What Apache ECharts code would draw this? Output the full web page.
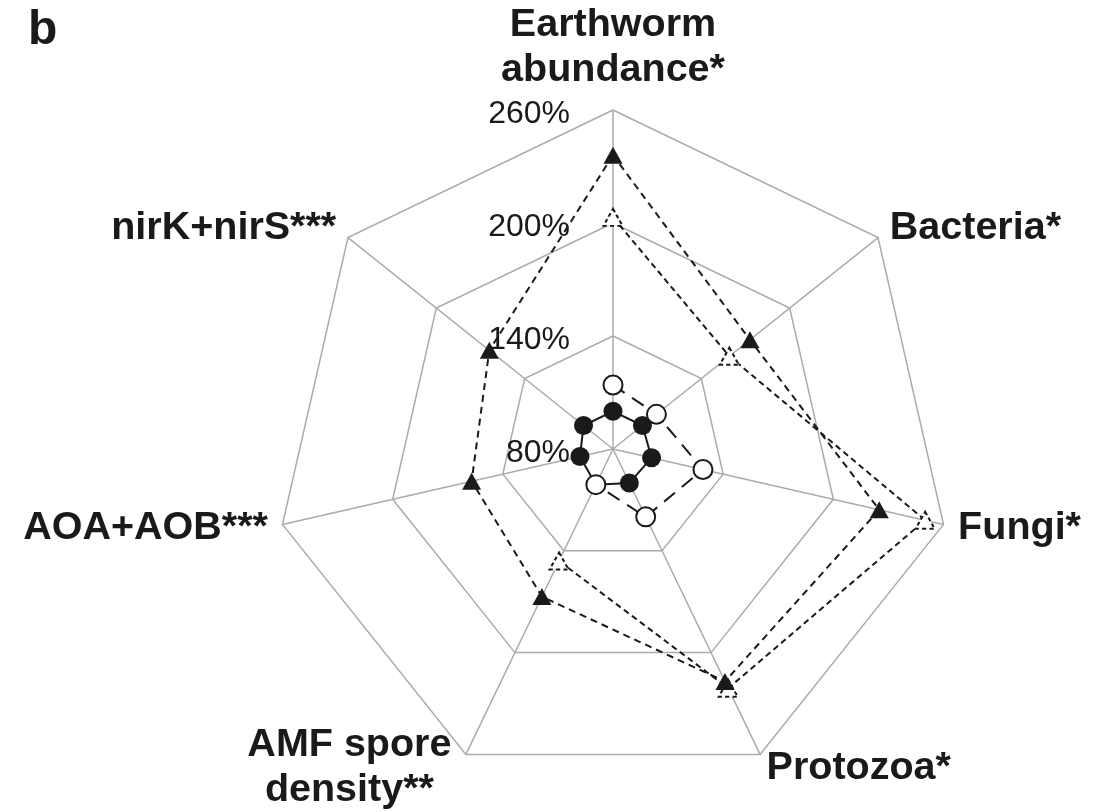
<!DOCTYPE html>
<html>
<head>
<meta charset="utf-8">
<script src="https://cdn.jsdelivr.net/npm/echarts@6/dist/echarts.min.js"></script>
<style>
  html, body { margin: 0; padding: 0; background: #fff; }
  #chart { width: 1109px; height: 812px; }
</style>
</head>
<body>
<div id="chart"></div>
<script>
// Indicators, clockwise from the top
const indicatorNames = [
  'Earthworm\nabundance*',
  'Bacteria*',
  'Fungi*',
  'Protozoa*',
  'AMF spore\ndensity**',
  'AOA+AOB***',
  'nirK+nirS***'
];

// Relative values (% of control), same order as indicatorNames
const filledTriangles = [236, 173, 225, 217, 167, 157, 164];
const openTriangles   = [203, 159, 250, 221, 146, null, null];
const openCircles     = [114, 109.5, 129, 120, 101, null, null];
const filledCircles   = [100, 100, 101, 100, 101, 98, 100];

// Scale of the web
const scaleMin = 80;
const scaleMax = 260;
const scaleSplits = 3;

const CENTER = [613, 449];
const RADIUS = 339;
const INK = '#1a1a1a';
const GRID = '#ababab';
const FONT = '"Liberation Sans", Arial, Helvetica, sans-serif';

// The radar lays its indicators out counter-clockwise, so feed it the
// clockwise list in reverse (keeping the first one on top).
const radarOrder = [0, 6, 5, 4, 3, 2, 1];
function toRadar(arr) { return radarOrder.map(function (i) { return arr[i]; }); }

const chart = echarts.init(document.getElementById('chart'), null, { renderer: 'canvas' });

const indicators = radarOrder.map(function (i) {
  const ind = { name: indicatorNames[i], min: scaleMin, max: scaleMax };
  if (i === 0) {
    // percentage ticks run up the top spoke only
    ind.axisLabel = {
      show: true,
      color: INK,
      margin: 43,
      formatter: '{p|{value}%}',
      rich: {
        p: {
          fontSize: 32,
          fontFamily: FONT,
          color: INK,
          lineHeight: 32,
          padding: [8, 0, 0, 0]
        }
      }
    };
  }
  return ind;
});

const nameToken = {
  width: 220,
  align: 'center',
  fontSize: 39.5,
  fontWeight: 'bold',
  fontFamily: FONT,
  color: INK,
  lineHeight: 45
};

const option = {
  animation: false,
  backgroundColor: '#fff',
  title: {
    text: 'b',
    left: 28,
    top: 7,
    padding: 0,
    textStyle: { fontSize: 48, fontWeight: 'bold', color: INK, fontFamily: FONT }
  },
  radar: {
    center: CENTER,
    radius: RADIUS,
    startAngle: 90,
    shape: 'polygon',
    splitNumber: scaleSplits,
    indicator: indicators,
    nameGap: 15,
    axisName: {
      color: INK,
      fontSize: 39.5,
      fontWeight: 'bold',
      fontFamily: FONT,
      lineHeight: 45,
      formatter: function (name) {
        const lines = name.split('\n');
        if (lines.length < 2) {
          return name;
        }
        if (name === indicatorNames[0]) {
          // top name sits a little closer to its spoke
          return '{t1|' + lines[0] + '}\n{t2|' + lines[1] + '}';
        }
        return lines.map(function (s) { return '{c|' + s + '}'; }).join('\n');
      },
      rich: {
        c: nameToken,
        t1: Object.assign({}, nameToken, { lineHeight: 63 }),
        t2: Object.assign({}, nameToken, { lineHeight: 27 })
      }
    },
    axisLabel: { show: false },
    axisTick: { show: false },
    axisLine: { show: true, lineStyle: { color: GRID, width: 1.5 } },
    splitLine: { show: true, lineStyle: { color: GRID, width: 1.5 } },
    splitArea: { show: false }
  },
  // polar frame laid over the radar, used for the series with missing values
  polar: { center: CENTER, radius: RADIUS },
  angleAxis: {
    type: 'category',
    data: indicatorNames,
    boundaryGap: false,
    startAngle: 90,
    clockwise: true,
    show: false
  },
  radiusAxis: { type: 'value', min: scaleMin, max: scaleMax, show: false },
  series: [
    {
      type: 'line',
      coordinateSystem: 'polar',
      data: openTriangles,
      connectNulls: false,
      showSymbol: true,
      showAllSymbol: true,
      symbol: 'triangle',
      symbolSize: [19, 17],
      itemStyle: { color: '#fff', borderColor: INK, borderWidth: 2, borderType: [4, 3] },
      lineStyle: { color: INK, width: 2, type: [6, 4] },
      z: 2
    },
    {
      type: 'radar',
      symbol: 'triangle',
      symbolSize: [19, 17],
      itemStyle: { color: INK },
      lineStyle: { color: INK, width: 2, type: [7, 5] },
      data: [{ value: toRadar(filledTriangles) }],
      z: 3
    },
    {
      type: 'radar',
      symbol: 'circle',
      symbolSize: 19,
      itemStyle: { color: INK },
      lineStyle: { color: INK, width: 2, type: 'solid' },
      data: [{ value: toRadar(filledCircles) }],
      z: 4
    },
    {
      type: 'line',
      coordinateSystem: 'polar',
      data: openCircles,
      connectNulls: false,
      showSymbol: true,
      showAllSymbol: true,
      symbol: 'circle',
      symbolSize: 19,
      itemStyle: { color: '#fff', borderColor: INK, borderWidth: 2 },
      lineStyle: { color: INK, width: 2, type: [14, 9] },
      z: 5
    }
  ]
};

chart.setOption(option);
</script>
</body>
</html>
